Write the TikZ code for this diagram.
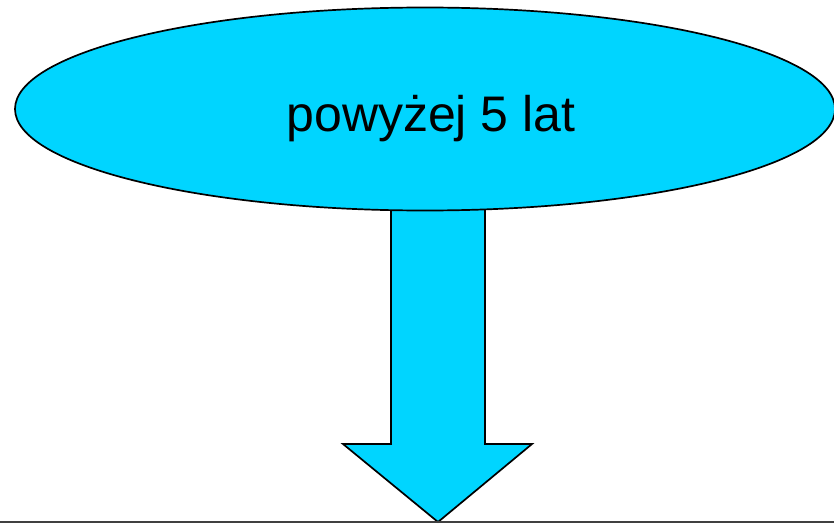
\documentclass[tikz,border=0pt]{standalone}
\usepackage{fontspec}
\setmainfont{Liberation Sans}
\usetikzlibrary{shapes.geometric}
\definecolor{cyanfill}{HTML}{00D5FF}
\begin{document}
\begin{tikzpicture}[x=1pt,y=-1pt,
  shapeline/.style={draw=black,line width=1.7pt,fill=cyanfill,line join=miter},
  bubble/.style={shapeline,ellipse,inner sep=0pt,minimum width=820pt,minimum height=203pt,font=\fontsize{50}{60}\selectfont}]
\useasboundingbox (0,0) rectangle (834,524);
% arrow
\coordinate (sl) at (391,200);
\coordinate (sr) at (485,200);
\coordinate (hl) at (343,444);
\coordinate (hr) at (532,444);
\coordinate (tip) at (438,522);
\draw[shapeline] (sl) -- (391,444) -- (hl) -- (tip) -- (hr) -- (485,444) -- (sr) -- cycle;
% ellipse
\node[bubble] (e) at (425,109) {};
\node[font=\fontsize{50}{60}\selectfont,anchor=base] (t) at (431,131) {powyżej 5 lat};
% bottom line
\coordinate (bl) at (0,522);
\coordinate (br) at (834,522);
\draw[line width=1.7pt,draw=black!75] (bl) -- (br);
\end{tikzpicture}
\end{document}
